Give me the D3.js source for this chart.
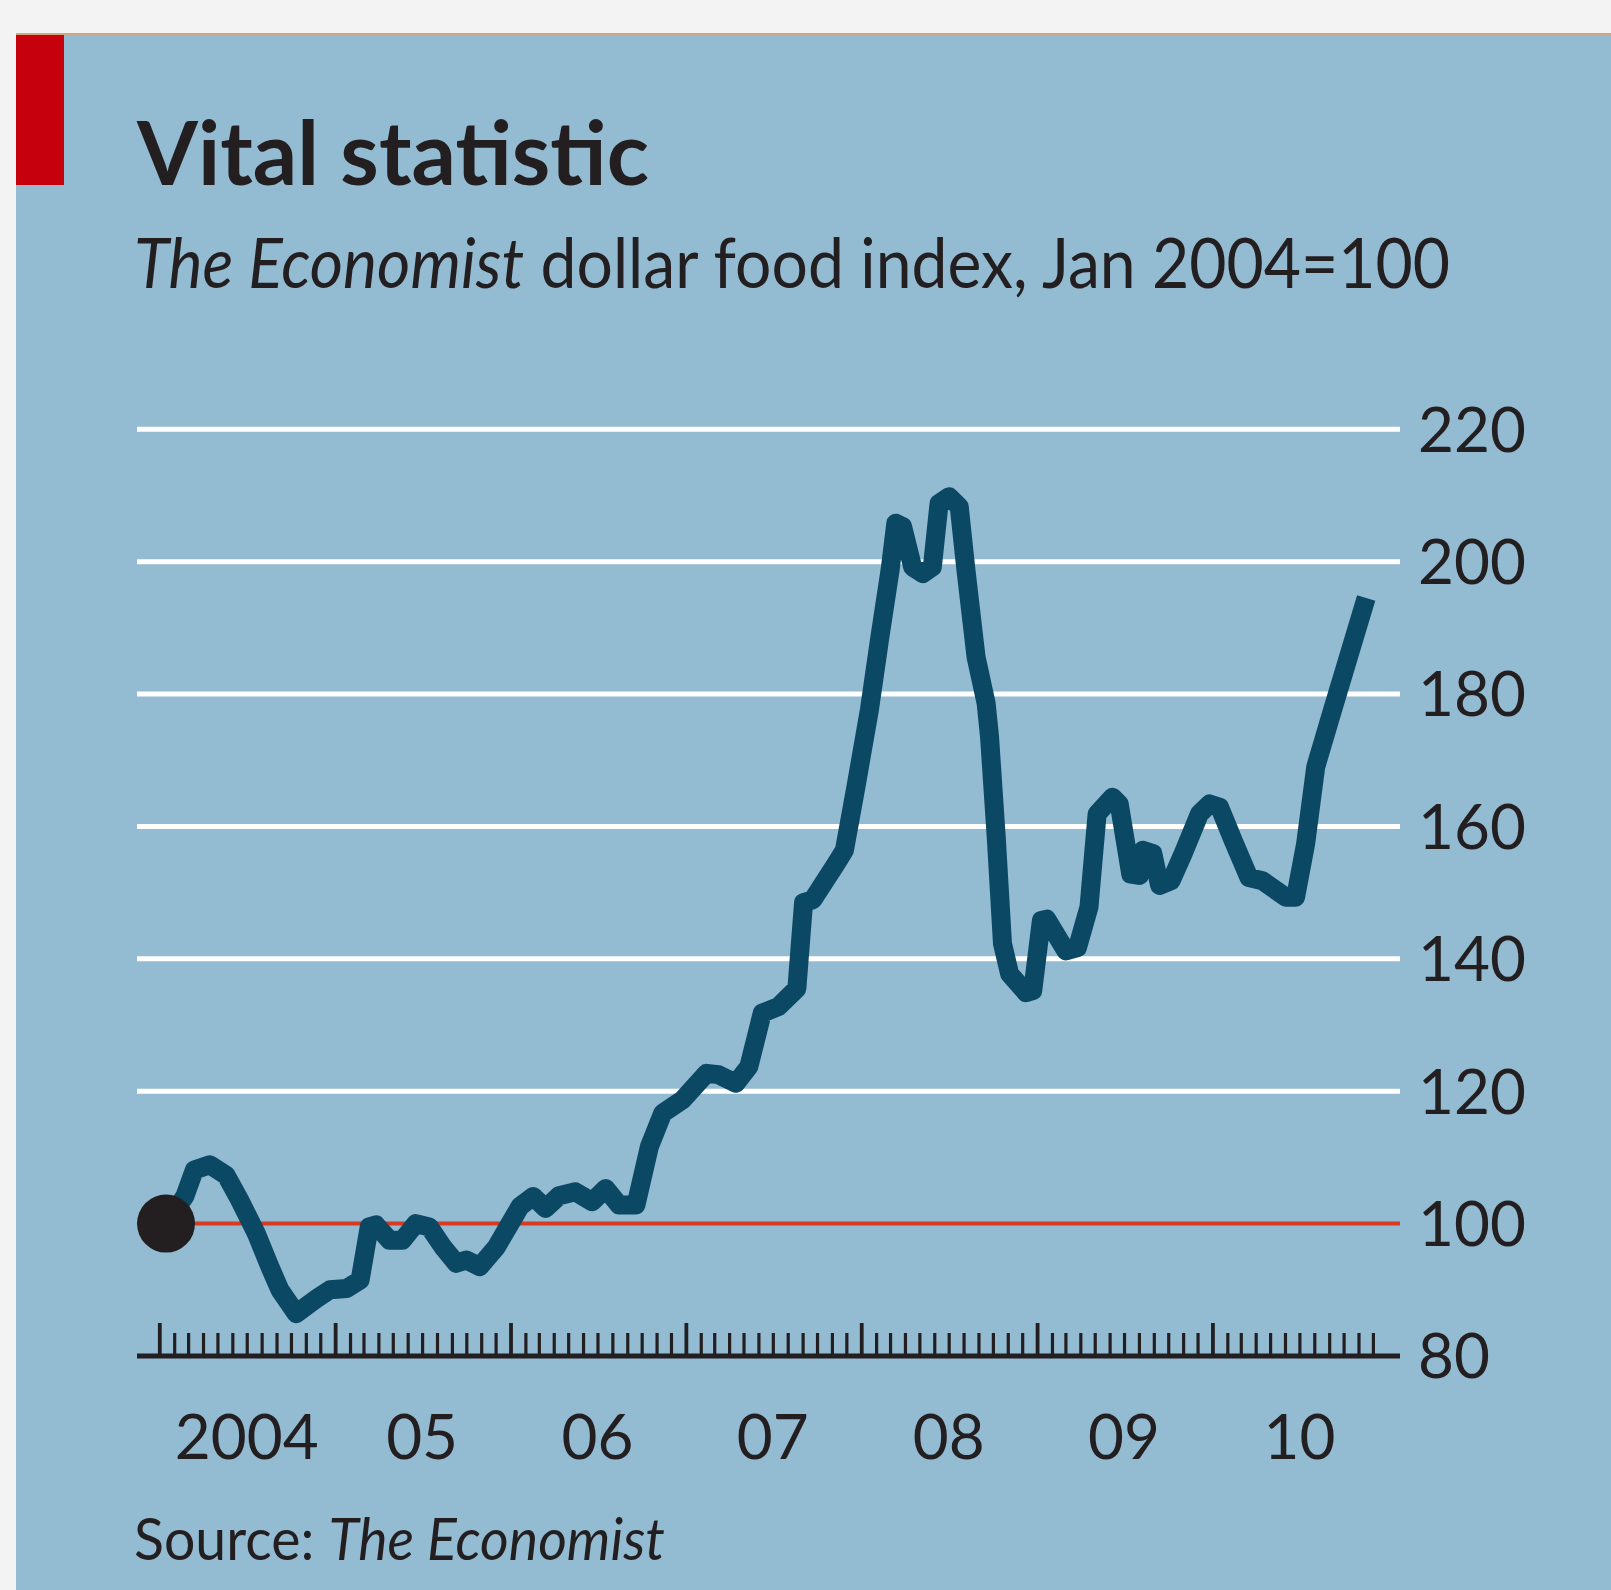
<!DOCTYPE html>
<html>
<head>
<meta charset="utf-8">
<script src="https://cdn.jsdelivr.net/npm/d3@7"></script>
<style>
  html, body { margin: 0; padding: 0; background: #f3f3f3; }
  svg { display: block; }
  text { font-family: Lato, "Open Sans", sans-serif; fill: #231f20; }
</style>
</head>
<body>
<svg width="1611" height="1590"></svg>
<script>
// Economist dollar food index, Jan 2004 = 100
const dates = [
  "2004-01-15", "2004-02-23", "2004-03-14", "2004-04-15", "2004-05-19", "2004-06-16",
  "2004-07-21", "2004-08-18", "2004-09-08", "2004-10-12", "2004-11-24", "2004-12-21",
  "2005-01-25", "2005-02-22", "2005-03-13", "2005-03-27", "2005-04-24", "2005-05-21",
  "2005-06-18", "2005-07-16", "2005-08-13", "2005-09-10", "2005-10-01", "2005-10-29",
  "2005-12-03", "2005-12-31", "2006-01-21", "2006-02-17", "2006-03-15", "2006-04-12",
  "2006-05-16", "2006-06-20", "2006-07-18", "2006-08-15", "2006-09-19", "2006-10-17",
  "2006-11-14", "2006-12-25", "2007-02-13", "2007-03-10", "2007-04-15", "2007-05-12",
  "2007-06-09", "2007-07-13", "2007-08-20", "2007-09-03", "2007-09-22", "2007-11-10",
  "2007-11-27", "2007-12-21", "2008-01-18", "2008-02-09", "2008-03-01", "2008-03-13",
  "2008-03-27", "2008-04-17", "2008-05-08", "2008-05-28", "2008-06-11", "2008-07-02",
  "2008-07-23", "2008-08-06", "2008-08-27", "2008-09-17", "2008-09-24", "2008-10-08",
  "2008-10-21", "2008-11-05", "2008-12-09", "2008-12-23", "2009-01-10", "2009-01-21",
  "2009-03-02", "2009-03-26", "2009-04-19", "2009-05-06", "2009-06-07", "2009-06-21",
  "2009-07-15", "2009-08-02", "2009-08-09", "2009-08-30", "2009-09-13", "2009-10-07",
  "2009-11-01", "2009-12-05", "2009-12-26", "2010-01-16", "2010-02-13", "2010-03-18",
  "2010-04-15", "2010-06-03", "2010-06-23", "2010-07-14", "2010-08-04", "2010-09-08",
  "2010-11-17"
];
const values = [
  100, 104.1, 108.1, 108.9, 107.3, 103.6,
  98.5, 93.5, 90, 86.4, 88.7, 90,
  90.2, 91.5, 99.5, 99.8, 97.5, 97.5,
  100, 99.5, 96.5, 94, 94.5, 93.5,
  96.5, 100, 102.6, 104.1, 102.3, 104.2,
  104.8, 103.3, 105.3, 102.8, 102.8, 111.6,
  116.7, 118.7, 122.7, 122.5, 121.2, 123.7,
  131.8, 132.8, 135.5, 148.5, 148.9, 154.4,
  156.4, 166, 177.6, 188.7, 198.7, 205.8,
  205.3, 199.2, 198.2, 199.2, 208.8, 209.8,
  208.3, 198.7, 185.6, 178.6, 173.6, 158.4,
  142.3, 137.7, 134.9, 135.2, 145.8, 146,
  141.2, 141.7, 147.8, 161.9, 164.4, 163.4,
  152.8, 152.6, 156.4, 155.9, 151.1, 151.8,
  155.9, 161.9, 163.4, 162.9, 157.9, 152.3,
  151.8, 149.3, 149.3, 157.4, 169, 177.6,
  194.5
];
const yTicks = [80, 100, 120, 140, 160, 180, 200, 220];
const years = [2004, 2005, 2006, 2007, 2008, 2009, 2010];
const yearLabels = ["2004", "05", "06", "07", "08", "09", "10"];
const baseValue = 100;

const svg = d3.select("svg"),
      width = +svg.attr("width"),
      height = +svg.attr("height");

const parse = d3.timeParse("%Y-%m-%d");
const data = dates.map((d, i) => ({date: parse(d), value: values[i]}));

const left = 137, right = 1400;

const x = d3.scaleTime()
  .domain([new Date(2004, 0, 1), new Date(2011, 0, 1)])
  .range([159.3, 1387.8]);

const y = d3.scaleLinear()
  .domain([80, 220])
  .range([1356, 429.3]);

// panel
svg.append("rect")
  .attr("x", 16).attr("y", 34)
  .attr("width", width - 16).attr("height", height - 34)
  .attr("fill", "#93bbd2");
svg.append("line")
  .attr("x1", 16).attr("x2", width)
  .attr("y1", 34).attr("y2", 34)
  .attr("stroke", "#cfa67e").attr("stroke-width", 2);
svg.append("rect")
  .attr("x", 16).attr("y", 35)
  .attr("width", 48).attr("height", 150)
  .attr("fill", "#c7000d");

// titles
svg.append("text")
  .attr("x", 137).attr("y", 185)
  .attr("font-size", 88).attr("font-weight", 700)
  .attr("textLength", 512).attr("lengthAdjust", "spacingAndGlyphs")
  .text("Vital statistic");

const sub = svg.append("text")
  .attr("x", 134).attr("y", 288)
  .attr("font-size", 69)
  .attr("textLength", 1316).attr("lengthAdjust", "spacingAndGlyphs");
sub.append("tspan").attr("font-style", "italic").text("The Economist");
sub.append("tspan").text(" dollar food index, Jan 2004=100");

// gridlines
svg.append("g")
  .selectAll("line")
  .data(yTicks.filter(v => v > 80))
  .join("line")
  .attr("x1", left).attr("x2", right)
  .attr("y1", d => y(d)).attr("y2", d => y(d))
  .attr("stroke", d => d === baseValue ? "#d83a22" : "#ffffff")
  .attr("stroke-width", d => d === baseValue ? 4 : 5);

// y labels
svg.append("g")
  .selectAll("text")
  .data(yTicks)
  .join("text")
  .attr("x", 1418)
  .attr("y", d => y(d))
  .attr("dy", "0.36em")
  .attr("font-size", 62)
  .text(d => d);

// x axis: monthly minor ticks, yearly major ticks
const axisY = y(80);
svg.append("g")
  .attr("transform", `translate(0,${axisY})`)
  .call(d3.axisTop(x)
    .tickValues(d3.timeMonth.range(new Date(2004, 0, 1), new Date(2011, 0, 1))
      .filter(d => d.getMonth() !== 0))
    .tickSize(23).tickFormat(""))
  .call(g => g.select(".domain").remove())
  .call(g => g.selectAll(".tick line").attr("stroke", "#231f20").attr("stroke-width", 3.2));

svg.append("g")
  .attr("transform", `translate(0,${axisY})`)
  .call(d3.axisTop(x)
    .tickValues(years.map(yr => new Date(yr, 0, 1)))
    .tickSize(33).tickFormat(""))
  .call(g => g.select(".domain").remove())
  .call(g => g.selectAll(".tick line").attr("stroke", "#231f20").attr("stroke-width", 3.8));

svg.append("line")
  .attr("x1", left).attr("x2", right)
  .attr("y1", axisY).attr("y2", axisY)
  .attr("stroke", "#231f20").attr("stroke-width", 5);

svg.append("g")
  .selectAll("text")
  .data(years)
  .join("text")
  .attr("x", d => x(new Date(d, 6, 1)))
  .attr("y", 1459)
  .attr("text-anchor", "middle")
  .attr("font-size", 62)
  .text((d, i) => yearLabels[i]);

// series
const line = d3.line()
  .x(d => x(d.date))
  .y(d => y(d.value));

svg.append("path")
  .datum(data)
  .attr("fill", "none")
  .attr("stroke", "#0b4864")
  .attr("stroke-width", 19)
  .attr("stroke-linejoin", "round")
  .attr("stroke-linecap", "butt")
  .attr("d", line);

svg.append("circle")
  .attr("cx", x(data[0].date))
  .attr("cy", y(data[0].value))
  .attr("r", 29)
  .attr("fill", "#231f20");

// source
const src = svg.append("text")
  .attr("x", 134).attr("y", 1560)
  .attr("font-size", 59)
  .attr("textLength", 531).attr("lengthAdjust", "spacingAndGlyphs");
src.append("tspan").text("Source: ");
src.append("tspan").attr("font-style", "italic").text("The Economist");
</script>
</body>
</html>
